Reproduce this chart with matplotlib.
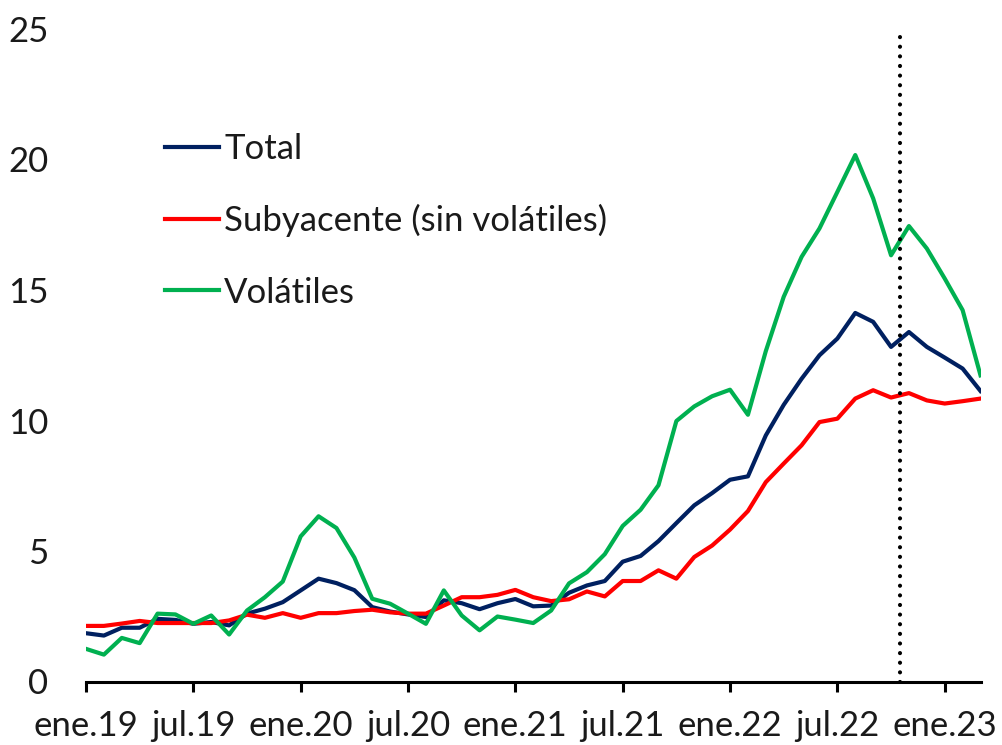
import matplotlib
matplotlib.use('Agg')
import matplotlib.pyplot as plt
import numpy as np

# Monthly series, ene.19 .. mar.23
total = [1.85, 1.76, 2.06, 2.06, 2.40, 2.36, 2.21, 2.28, 2.15, 2.60, 2.79, 3.04,
         3.49, 3.94, 3.77, 3.50, 2.85, 2.68, 2.57, 2.47, 3.11, 3.00, 2.77, 3.00,
         3.16, 2.88, 2.91, 3.40, 3.68, 3.85, 4.59, 4.81, 5.38, 6.07, 6.75, 7.22,
         7.73, 7.86, 9.43, 10.60, 11.60, 12.50, 13.14, 14.12, 13.78, 12.82, 13.39, 12.82,
         12.41, 11.99, 11.13]
subyacente = [2.13, 2.13, 2.22, 2.32, 2.24, 2.24, 2.24, 2.24, 2.34, 2.56, 2.44, 2.62,
              2.44, 2.62, 2.62, 2.70, 2.75, 2.65, 2.60, 2.60, 2.91, 3.23, 3.23, 3.32,
              3.51, 3.23, 3.08, 3.15, 3.45, 3.26, 3.85, 3.85, 4.26, 3.94, 4.77, 5.21,
              5.82, 6.53, 7.64, 8.35, 9.05, 9.94, 10.07, 10.84, 11.16, 10.88, 11.05, 10.77,
              10.65, 10.74, 10.84]
volatiles = [1.25, 1.03, 1.67, 1.47, 2.60, 2.57, 2.21, 2.53, 1.80, 2.72, 3.23, 3.83,
             5.56, 6.33, 5.88, 4.75, 3.17, 2.98, 2.60, 2.21, 3.49, 2.53, 1.96, 2.49,
             2.37, 2.24, 2.72, 3.76, 4.19, 4.88, 5.96, 6.58, 7.52, 9.98, 10.54, 10.93,
             11.18, 10.22, 12.66, 14.74, 16.27, 17.36, 18.76, 20.17, 18.51, 16.33, 17.45, 16.59,
             15.44, 14.23, 11.73]
tick_labels = ['ene.19', 'jul.19', 'ene.20', 'jul.20', 'ene.21',
               'jul.21', 'ene.22', 'jul.22', 'ene.23']
cutoff = 45.5  # between oct.22 and nov.22

plt.rcParams['font.family'] = ['Lato', 'DejaVu Sans']
fs = 25

x = np.arange(len(total))

fig = plt.figure(figsize=(10.02, 7.45), dpi=100)
ax = fig.add_axes([86 / 1002, 63.5 / 745, (980.5 - 86) / 1002, (681.5 - 29) / 745])

ax.plot(x, total, color='#002060', lw=3.0, label='Total', solid_joinstyle='round')
ax.plot(x, subyacente, color='#FF0000', lw=3.0, label='Subyacente (sin volátiles)',
        solid_joinstyle='round')
ax.plot(x, volatiles, color='#00B050', lw=3.0, label='Volátiles', solid_joinstyle='round')

# dotted vertical marker
ax.plot([cutoff, cutoff], [0, 24.85], color='black', lw=3.0,
        linestyle=(0, (0.01, 2.3)), dash_capstyle='round')

ax.set_xlim(0, len(total) - 1)
ax.set_ylim(0, 25)
ax.set_yticks(range(0, 26, 5))
ax.set_xticks(range(0, len(total), 6))
ax.set_xticklabels(tick_labels)

for s in ['top', 'right', 'left']:
    ax.spines[s].set_visible(False)
ax.spines['bottom'].set_linewidth(2.2)
ax.tick_params(axis='y', length=0, pad=27, labelsize=fs, colors='#1a1a1a')
ax.tick_params(axis='x', length=7.5, width=2.2, direction='out', pad=13, labelsize=fs,
               colors='black', labelcolor='#1a1a1a')

leg = ax.legend(loc='upper left', bbox_to_anchor=(165 / 1002, 1 - 133 / 745),
                bbox_transform=fig.transFigure, frameon=False, handlelength=1.55,
                handletextpad=0.15, labelspacing=1.13, borderpad=0, borderaxespad=0,
                fontsize=fs)
for t in leg.get_texts():
    t.set_color('#1a1a1a')

fig.savefig('out.png', dpi=100, facecolor='white')
